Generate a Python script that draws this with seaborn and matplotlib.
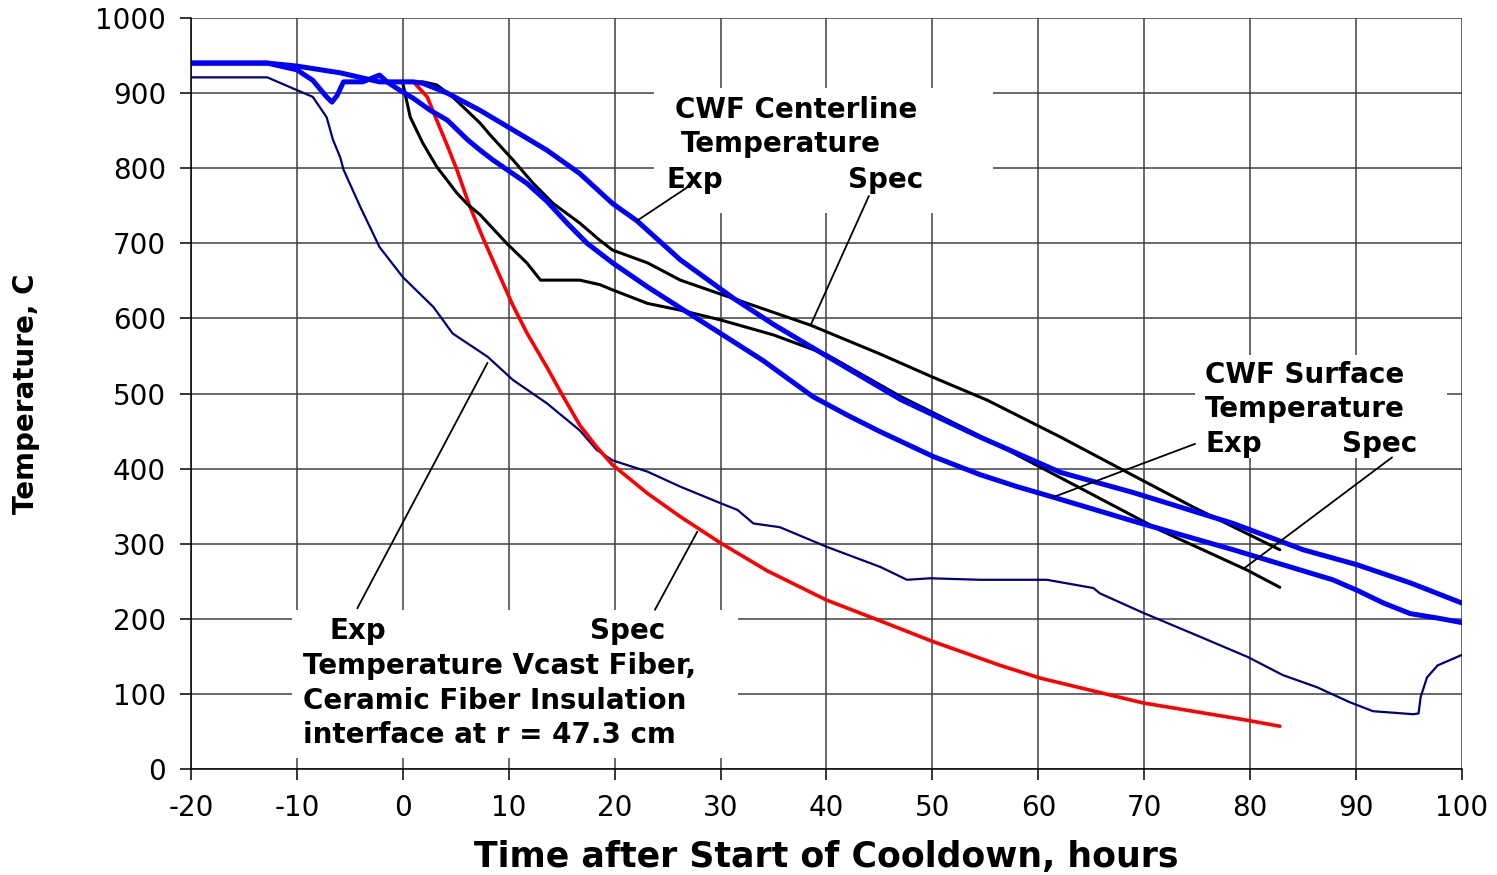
import matplotlib
matplotlib.use("Agg")
import matplotlib.pyplot as plt
import seaborn as sns
from matplotlib.patches import Rectangle

# values (time in hours, temperature in C)

# Vcast fiber / ceramic fiber interface, experiment (navy)
vcast_exp_t = [-20, -12.8, -10, -8.5, -7.2, -6.6, -5.9, -5.6, -4.0, -2.2, 0, 2.9, 4.7, 8.0,
               10.4, 13.6, 16.7, 18.3, 19.8, 23.1, 26.2, 30, 31.6, 33.1, 35.6, 40, 45.1,
               47.6, 49.8, 54.5, 60.8, 62, 65.2, 65.8, 69.9, 75.3, 79.8, 83.1, 86.3, 89.4,
               91.6, 95.4, 95.9, 96.1, 96.7, 97.7, 100]
vcast_exp_T = [921, 921, 904, 895, 868, 838, 814, 798, 748, 695, 655, 615, 580, 549,
               518, 487, 451, 425, 411, 396, 376, 354, 345, 327, 322, 296, 269,
               252, 254, 252, 252, 249, 241, 234, 208, 176, 149, 125, 109, 89,
               77, 73, 74, 96, 122, 138, 152]

# Vcast fiber interface, spec (red)
vcast_spec_t = [1.0, 2.3, 3.2, 4.2, 5.1, 6.3, 7.6, 9.2, 10.4, 11.7, 13.6, 15.1, 16.7, 18.3,
                19.8, 23.1, 26.2, 30, 34.4, 40, 44.4, 50, 56.4, 60.2, 69.9, 79.7, 82.8]
vcast_spec_T = [915, 895, 864, 830, 798, 750, 706, 655, 617, 581, 535, 497, 458, 429,
                405, 367, 336, 301, 264, 225, 201, 170, 138, 121, 88, 65, 57]

# CWF centerline, experiment (blue)
center_exp_t = [-20, -12.8, -10, -5.9, -2.2, 1.0, 1.9, 4.2, 7.3, 10.4, 13.6, 16.7, 19.8,
                22.1, 26.2, 31.2, 35, 40, 47, 54.5, 62.1, 69, 78.4, 85, 90.1, 95.1, 100]
center_exp_T = [940, 940, 936, 927, 915, 915, 913, 900, 877, 851, 824, 793, 753,
                730, 678, 627, 592, 550, 492, 442, 395, 368, 327, 292, 272, 248, 221]

# CWF surface, experiment (blue)
surface_exp_t = [-20, -12.8, -10, -8.5, -7.2, -6.7, -6.2, -5.6, -3.8, -2.2, -1.5, -0.3, 1.0,
                 2.6, 4.2, 6.1, 7.3, 8.5, 11.7, 13.6, 15.5, 17.4, 19.8, 23.1, 26.2, 30,
                 34, 38.7, 42, 45.1, 50.1, 54.5, 58, 61.4, 69, 78.4, 87.8, 90.1, 92.6, 95.1,
                 97.7, 100]
surface_exp_T = [940, 940, 931, 917, 895, 888, 897, 915, 915, 924, 915, 904, 893,
                 877, 864, 838, 824, 811, 780, 756, 727, 700, 674, 642, 614, 580,
                 544, 496, 471, 449, 416, 392, 376, 362, 330, 292, 252, 238, 221, 207,
                 201, 195]

# CWF centerline, spec (black)
center_spec_t = [-0.3, 1.9, 3.2, 4.7, 7.3, 8.2, 10.4, 12.3, 14.2, 16.7, 18.6, 19.8, 23.1,
                 26.2, 30.9, 38.5, 45, 50, 55.2, 62.1, 68.0, 74.6, 82.8]
center_spec_T = [915, 915, 911, 895, 860, 845, 811, 780, 753, 727, 704, 691, 674,
                 651, 628, 591, 553, 522, 491, 442, 398, 349, 292]

# CWF surface, spec (black)
surface_spec_t = [0, 0.2, 0.7, 1.9, 3.2, 5.1, 6.1, 7.3, 9.8, 11.7, 13.0, 13.6, 16.7, 18.6,
                  19.8, 23.1, 26.2, 30, 35, 40, 44, 47, 56.4, 63.7, 71.5, 79.7, 82.8]
surface_spec_T = [913, 900, 868, 833, 802, 767, 752, 738, 700, 674, 651, 651, 651, 645,
                  638, 620, 611, 598, 578, 552, 520, 496, 430, 376, 318, 265, 242]

x_ticks = list(range(-20, 101, 10))
y_ticks = list(range(0, 1001, 100))

sns.set_style("ticks")
plt.rcParams['font.family'] = ['DejaVu Sans']
plt.rcParams['text.color'] = 'black'
plt.rcParams['axes.labelcolor'] = 'black'
plt.rcParams['axes.unicode_minus'] = False

fig = plt.figure(figsize=(14.97, 8.75), dpi=100)
ax = fig.add_axes([0.1276, 0.1211, 0.8490, 0.8583])

series = [
    (vcast_exp_t, vcast_exp_T, '#000080', 1.6),
    (vcast_spec_t, vcast_spec_T, '#ff0000', 2.6),
    (surface_spec_t, surface_spec_T, 'black', 2.2),
    (center_spec_t, center_spec_T, 'black', 2.2),
    (surface_exp_t, surface_exp_T, '#0000ff', 3.6),
    (center_exp_t, center_exp_T, '#0000ff', 3.6),
]
for t, T, c, lw in series:
    sns.lineplot(x=t, y=T, ax=ax, color=c, linewidth=lw, sort=False,
                 estimator=None, zorder=2)

ax.set_xlim(-20, 100)
ax.set_ylim(0, 1000)
ax.set_xticks(x_ticks)
ax.set_yticks(y_ticks)
ax.set_axisbelow(True)
ax.grid(True, color='#404040', linewidth=1.1)
for s in ['top', 'right']:
    ax.spines[s].set_visible(False)
for s in ['left', 'bottom']:
    ax.spines[s].set_color('black')
    ax.spines[s].set_linewidth(1.1)
ax.tick_params(direction='out', length=8, width=1.1, colors='black',
               labelsize=20, pad=10)

ax.set_xlabel('Time after Start of Cooldown, hours', fontsize=25,
              fontweight='bold')
ax.set_ylabel('Temperature, C', fontsize=20, fontweight='bold')
ax.xaxis.set_label_coords(0.5, -0.094)
ax.yaxis.set_label_coords(-0.119, 0.5)

# white label boxes that cut the grid
boxes = [(23.7, 741, 32.0, 166), (74.8, 414, 23.8, 137), (-10.5, 15, 42.1, 197)]
for x0, y0, w, h in boxes:
    ax.add_patch(Rectangle((x0, y0), w, h, facecolor='white',
                           edgecolor='none', zorder=1.5))

txt = dict(fontsize=20, fontweight='bold', va='baseline', zorder=4)
ax.text(37.1, 867, 'CWF Centerline', ha='center', **txt)
ax.text(35.7, 822, 'Temperature', ha='center', **txt)
ax.text(24.9, 774, 'Exp', ha='left', **txt)
ax.text(42.0, 774, 'Spec', ha='left', **txt)

ax.text(75.75, 514, 'CWF Surface', ha='left', **txt)
ax.text(75.75, 469, 'Temperature', ha='left', **txt)
ax.text(75.75, 422, 'Exp', ha='left', **txt)
ax.text(88.7, 422, 'Spec', ha='left', **txt)

ax.text(-6.9, 173, 'Exp', ha='left', **txt)
ax.text(17.7, 173, 'Spec', ha='left', **txt)
ax.text(-9.4, 126.5, 'Temperature Vcast Fiber,', ha='left', **txt)
ax.text(-9.4, 80, 'Ceramic Fiber Insulation', ha='left', **txt)
ax.text(-9.4, 34.6, 'interface at r = 47.3 cm', ha='left', **txt)

# leader lines from labels to curves
leaders = [
    ((26.8, 22.1), (774, 730)),
    ((44.0, 38.5), (763, 591)),
    ((74.8, 61.4), (433, 362)),
    ((93.4, 79.5), (415, 268)),
    ((-4.3, 8.0), (214, 541)),
    ((23.8, 27.8), (212, 316)),
]
for xs, ys in leaders:
    ax.plot(xs, ys, color='black', linewidth=1.3, zorder=3)

fig.savefig('out.png', dpi=100)
